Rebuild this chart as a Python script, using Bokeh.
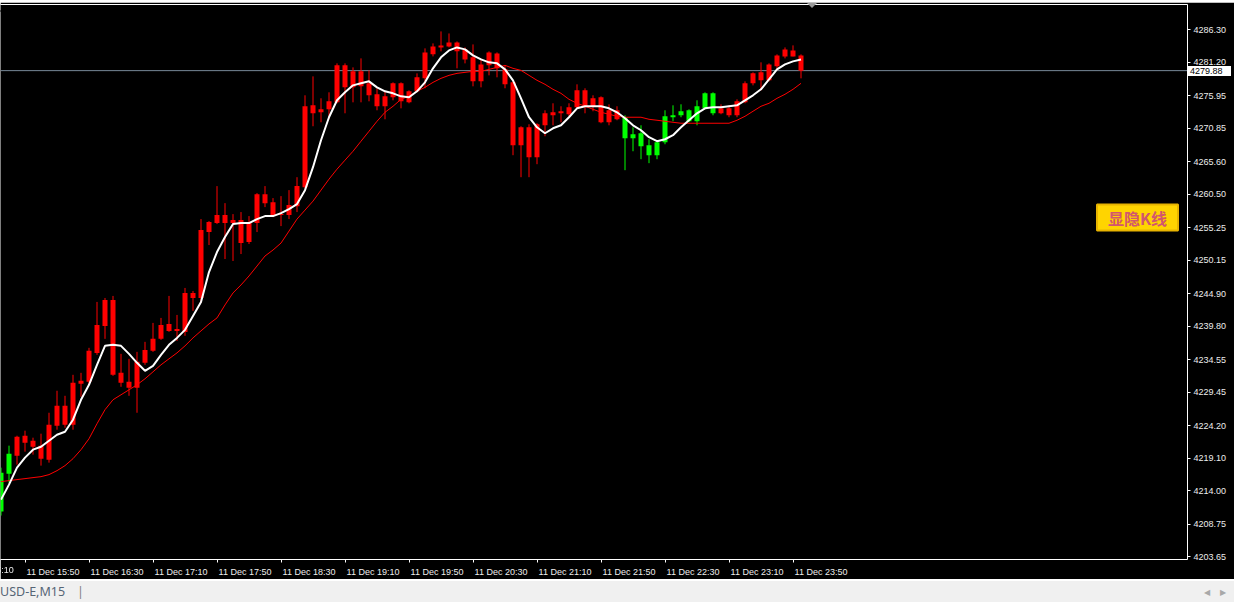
from bokeh.plotting import figure
from bokeh.models import (ColumnDataSource, Range1d, FixedTicker, NumeralTickFormatter,
                          LinearAxis, Span, Label, Div)
from bokeh.layouts import column
from bokeh.embed import file_html
from bokeh.resources import INLINE

# ---------------- data (M15 bars, index = bar number) ----------------
bars = list(range(101))

open_ = [
    4210.74, 4216.68, 4219.50, 4222.63, 4221.85, 4221.07, 4218.88, 4224.20, 4227.33, 4224.35,
    4230.77, 4231.09, 4235.62, 4239.85, 4243.92, 4232.49, 4231.09, 4230.15, 4234.06, 4235.94,
    4237.82, 4240.16, 4239.07, 4238.91, 4245.02, 4244.23, 4254.57, 4255.97, 4257.23, 4255.97,
    4256.44, 4253.00, 4255.97, 4260.51, 4259.26, 4257.23, 4257.23, 4258.63, 4261.61, 4274.44,
    4273.35, 4273.82, 4274.91, 4280.71, 4277.26, 4279.77, 4277.89, 4276.17, 4274.29, 4275.70,
    4277.89, 4274.91, 4276.64, 4278.67, 4282.43, 4283.52, 4283.68, 4284.31, 4283.21, 4281.96,
    4278.20, 4280.71, 4282.58, 4280.08, 4278.04, 4268.18, 4271.00, 4266.30, 4271.31, 4273.35,
    4273.19, 4273.04, 4274.13, 4276.79, 4274.29, 4275.70, 4271.78, 4273.66, 4272.57, 4269.28,
    4270.06, 4268.18, 4266.62, 4268.65, 4272.57, 4272.88, 4273.66, 4271.94, 4273.97, 4276.32,
    4273.19, 4273.97, 4272.88, 4274.91, 4277.89, 4279.61, 4278.36, 4280.55, 4282.11, 4283.05,
    4282.27]

high = [
    4217.62, 4221.07, 4222.63, 4223.42, 4222.32, 4222.95, 4226.23, 4229.68, 4228.89, 4232.18,
    4232.49, 4236.41, 4243.61, 4244.23, 4244.55, 4235.47, 4234.69, 4235.78, 4237.35, 4240.32,
    4241.10, 4244.55, 4241.57, 4245.80, 4245.33, 4256.60, 4256.29, 4261.77, 4259.10, 4257.38,
    4257.70, 4257.07, 4260.67, 4261.77, 4259.89, 4260.20, 4261.14, 4263.17, 4276.01, 4278.98,
    4275.54, 4276.48, 4281.02, 4281.02, 4280.39, 4281.80, 4279.92, 4277.11, 4276.64, 4278.04,
    4278.04, 4276.79, 4279.45, 4283.37, 4284.15, 4286.03, 4285.71, 4284.46, 4283.52, 4283.99,
    4281.80, 4282.90, 4282.74, 4280.71, 4278.20, 4271.16, 4271.47, 4271.63, 4273.66, 4274.76,
    4274.29, 4274.76, 4277.73, 4277.11, 4276.01, 4275.85, 4274.60, 4274.29, 4272.88, 4271.00,
    4271.31, 4269.12, 4268.81, 4273.66, 4274.44, 4274.60, 4273.82, 4275.23, 4276.48, 4276.48,
    4274.60, 4274.44, 4275.38, 4278.20, 4279.61, 4281.18, 4281.02, 4282.43, 4283.52, 4283.84,
    4282.43]

low = [
    4210.11, 4215.28, 4218.09, 4220.13, 4219.66, 4217.94, 4218.41, 4223.57, 4223.88, 4223.57,
    4228.74, 4230.62, 4235.31, 4237.82, 4232.02, 4230.30, 4228.89, 4226.23, 4233.75, 4235.78,
    4237.66, 4238.91, 4237.50, 4238.29, 4242.20, 4243.45, 4252.53, 4255.82, 4250.34, 4250.03,
    4251.12, 4252.69, 4254.57, 4258.48, 4256.91, 4255.50, 4256.60, 4257.70, 4261.45, 4271.16,
    4271.78, 4272.25, 4274.76, 4273.19, 4274.91, 4274.91, 4275.07, 4273.66, 4272.25, 4275.23,
    4273.97, 4274.76, 4276.48, 4277.11, 4282.11, 4282.90, 4283.52, 4280.24, 4281.02, 4277.42,
    4277.26, 4279.14, 4278.83, 4277.11, 4266.62, 4263.17, 4263.17, 4265.21, 4269.59, 4271.31,
    4271.78, 4272.72, 4273.97, 4273.19, 4273.51, 4271.63, 4271.31, 4272.10, 4264.27, 4267.24,
    4265.99, 4265.37, 4265.99, 4268.34, 4271.94, 4272.57, 4271.78, 4271.31, 4273.82, 4272.88,
    4273.04, 4272.57, 4272.57, 4274.76, 4277.57, 4276.79, 4278.20, 4279.92, 4281.80, 4282.11,
    4278.67]

close_ = [
    4216.84, 4219.81, 4222.48, 4221.54, 4220.91, 4219.03, 4224.35, 4227.33, 4224.35, 4230.93,
    4231.24, 4235.94, 4240.01, 4243.92, 4232.18, 4230.93, 4230.15, 4234.22, 4236.09, 4237.82,
    4240.01, 4239.07, 4239.38, 4245.02, 4244.23, 4254.88, 4256.13, 4257.23, 4255.97, 4256.44,
    4252.84, 4255.97, 4260.51, 4259.10, 4257.23, 4257.38, 4258.79, 4261.77, 4274.29, 4273.19,
    4273.82, 4275.07, 4280.71, 4277.26, 4279.77, 4277.42, 4276.01, 4274.29, 4275.85, 4277.89,
    4275.07, 4276.64, 4278.83, 4282.74, 4283.68, 4283.84, 4284.31, 4282.90, 4281.64, 4278.20,
    4280.86, 4282.74, 4280.24, 4277.73, 4268.18, 4271.00, 4266.30, 4271.47, 4273.19, 4272.88,
    4273.51, 4274.13, 4276.79, 4274.29, 4275.54, 4271.78, 4273.66, 4272.25, 4269.28, 4269.90,
    4268.03, 4266.62, 4268.65, 4272.72, 4272.88, 4273.51, 4271.94, 4274.29, 4276.32, 4273.19,
    4273.97, 4272.88, 4275.07, 4277.89, 4279.45, 4278.36, 4280.86, 4282.27, 4283.21, 4282.11,
    4279.88]

# fast moving average (white) as drawn on the chart
ma_fast = [
    4212.61, 4214.96, 4217.62, 4219.19, 4220.44, 4220.91, 4221.85, 4222.79, 4223.26, 4225.14,
    4228.27, 4230.62, 4233.75, 4236.72, 4236.88, 4236.72, 4235.47, 4234.06, 4232.81, 4233.59,
    4235.31, 4236.88, 4237.97, 4239.23, 4241.42, 4243.61, 4248.30, 4251.43, 4253.78, 4255.82,
    4255.97, 4255.97, 4256.60, 4257.07, 4257.07, 4257.54, 4258.17, 4258.95, 4261.14, 4264.74,
    4268.97, 4272.57, 4275.23, 4276.48, 4277.57, 4277.89, 4278.20, 4277.26, 4276.64, 4276.32,
    4275.85, 4275.70, 4276.64, 4278.04, 4280.24, 4281.96, 4283.05, 4283.52, 4283.21, 4282.27,
    4281.64, 4281.18, 4281.02, 4280.08, 4278.36, 4275.54, 4272.57, 4271.00, 4270.06, 4270.84,
    4271.31, 4272.57, 4273.97, 4274.29, 4274.29, 4274.29, 4273.97, 4273.35, 4272.41, 4271.31,
    4270.53, 4269.44, 4268.81, 4269.12, 4269.75, 4271.00, 4272.10, 4273.19, 4273.97, 4274.13,
    4274.13, 4274.29, 4274.44, 4275.23, 4276.01, 4276.95, 4278.51, 4280.08, 4280.86, 4281.33,
    4281.64]

# slow moving average (red) as drawn on the chart
ma_slow = [
    4215.43, 4215.59, 4215.75, 4215.90, 4216.06, 4216.21, 4216.53, 4217.15, 4217.94, 4219.03,
    4220.44, 4222.16, 4224.51, 4226.71, 4228.27, 4229.05, 4229.83, 4230.62, 4231.56, 4232.65,
    4233.75, 4234.69, 4235.62, 4236.72, 4237.97, 4239.07, 4240.16, 4241.10, 4243.14, 4245.02,
    4246.27, 4247.68, 4249.24, 4250.81, 4251.75, 4252.84, 4254.72, 4256.60, 4258.01, 4259.42,
    4261.14, 4262.86, 4264.43, 4265.84, 4267.24, 4268.81, 4270.37, 4271.94, 4273.35, 4274.29,
    4275.38, 4275.85, 4276.64, 4277.26, 4278.04, 4278.67, 4279.14, 4279.45, 4279.61, 4279.77,
    4279.77, 4280.08, 4280.39, 4280.71, 4280.24, 4279.92, 4279.14, 4278.36, 4277.73, 4276.95,
    4276.32, 4275.38, 4274.76, 4274.29, 4273.82, 4273.35, 4273.04, 4272.72, 4272.57, 4272.57,
    4272.57, 4272.25, 4272.10, 4271.94, 4271.78, 4271.63, 4271.63, 4271.63, 4271.63, 4271.63,
    4271.63, 4271.63, 4272.10, 4272.72, 4273.51, 4274.29, 4274.76, 4275.54, 4276.17, 4276.95,
    4277.89]

# candle colours of the indicator (G = green, R = red)
candle_state = "GG" + "R" * 76 + "G" * 12 + "R" * 11

time_tick_bars = [3, 11, 19, 27, 35, 43, 51, 59, 67, 75, 83, 91, 99]
time_tick_labels = ["11 Dec 15:50", "11 Dec 16:30", "11 Dec 17:10", "11 Dec 17:50",
                    "11 Dec 18:30", "11 Dec 19:10", "11 Dec 19:50", "11 Dec 20:30",
                    "11 Dec 21:10", "11 Dec 21:50", "11 Dec 22:30", "11 Dec 23:10",
                    "11 Dec 23:50"]
# tick that lies just left of the visible bars (only the end of its label shows)
hidden_tick_bar = -5
hidden_tick_label = "11 Dec 15:10"

price_ticks = [4203.65, 4208.75, 4214.00, 4219.10, 4224.20, 4229.45, 4234.55, 4239.80,
               4244.90, 4250.15, 4255.25, 4260.50, 4265.60, 4270.85, 4275.95, 4281.20,
               4286.30]

symbol_text = "USD-E,M15"
button_text = "显隐K线"

# ---------------- layout constants ----------------
W = 1234
TOP_STRIP = 2
FIG_H = 577
STATUS_H = 23
FRAME_TOP = 2            # inside the figure canvas
BORDER_BOTTOM = 19
BORDER_RIGHT = 47
Y_LO, Y_HI = 4203.22, 4290.25
X_LO, X_HI = -0.0625, 148.3125

GREEN, RED = "#00FF00", "#FF0000"
colors = [GREEN if s == "G" else RED for s in candle_state]
body_top = [max(o, c) for o, c in zip(open_, close_)]
body_bottom = [min(o, c) for o, c in zip(open_, close_)]

src = ColumnDataSource(dict(x=bars, high=high, low=low, top=body_top,
                            bottom=body_bottom, color=colors))

p = figure(width=W, height=FIG_H,
           x_range=Range1d(X_LO, X_HI), y_range=Range1d(Y_LO, Y_HI),
           y_axis_location="right", output_backend="svg", toolbar_location=None, tools="",
           background_fill_color="black", border_fill_color="black",
           outline_line_color=None, min_border_left=0, min_border_top=FRAME_TOP,
           min_border_right=BORDER_RIGHT, min_border_bottom=BORDER_BOTTOM)
p.xgrid.visible = False
p.ygrid.visible = False

# bid line (behind the candles)
p.add_layout(Span(location=close_[-1], dimension="width", line_color="#778899",
                  line_width=1, level="underlay"))

# candles
p.segment(x0="x", y0="low", x1="x", y1="high", line_color="color", line_width=1, source=src)
p.vbar(x="x", width=0.625, top="top", bottom="bottom", fill_color="color",
       line_color=None, source=src)

# moving averages
p.line(bars, ma_slow, line_color="#FF0000", line_width=1)
p.line(bars, ma_fast, line_color="white", line_width=2)

# right price axis
ya = p.yaxis[0]
ya.ticker = FixedTicker(ticks=price_ticks)
ya.formatter = NumeralTickFormatter(format="0.00")
ya.axis_line_color = "white"
ya.major_tick_line_color = "white"
ya.major_tick_out = 3
ya.major_tick_in = 0
ya.minor_tick_line_color = None
ya.major_label_text_color = "#EDEDED"
ya.major_label_text_font = "Liberation Sans"
ya.major_label_text_font_size = "9px"
ya.major_label_standoff = 3

# bottom time axis (labels start right after the tick, as in MT4)
LABEL_SHIFT = 3.5
xa = p.xaxis[0]
xa.ticker = FixedTicker(ticks=[b + LABEL_SHIFT for b in time_tick_bars],
                        minor_ticks=time_tick_bars)
xa.major_label_overrides = {b + LABEL_SHIFT: t for b, t in zip(time_tick_bars, time_tick_labels)}
xa.axis_line_color = "white"
xa.major_tick_line_color = None
xa.major_tick_out = 0
xa.major_tick_in = 0
xa.minor_tick_line_color = "white"
xa.minor_tick_out = 3
xa.minor_tick_in = 0
xa.major_label_text_color = "#EDEDED"
xa.major_label_text_font = "Liberation Sans"
xa.major_label_text_font_size = "9px"
xa.major_label_standoff = 4

# top border line
top_axis = LinearAxis(ticker=FixedTicker(ticks=[]), axis_line_color="white",
                      major_tick_line_color=None, minor_tick_line_color=None,
                      major_tick_out=0, major_tick_in=0, minor_tick_out=0, minor_tick_in=0,
                      major_label_text_font_size="0px", major_label_standoff=0)
p.add_layout(top_axis, "above")

# indicator button (screen units, measured from the frame's bottom-left)
button = Label(x=1137, y=342, x_units="screen", y_units="screen", text=button_text,
               text_font="Noto Sans CJK SC", text_font_style="bold", text_font_size="16px",
               text_color="#D2566E", text_align="center", text_baseline="middle",
               background_fill_color="#FFD400", border_line_color="#E8B400",
               border_line_width=2)
try:
    button.padding = dict(left=11, right=11, top=1, bottom=1)
except Exception:
    try:
        button.padding = 3
    except Exception:
        pass
p.add_layout(button)

# positions for the small page overlays, from the same scales as the frame
frame_top_px = TOP_STRIP + FRAME_TOP
frame_bot_px = TOP_STRIP + FIG_H - BORDER_BOTTOM
frame_right_px = W - BORDER_RIGHT
px_per_bar = frame_right_px / (X_HI - X_LO)
bid_px = frame_top_px + (Y_HI - close_[-1]) / (Y_HI - Y_LO) * (frame_bot_px - frame_top_px)
tag_top = int(round(bid_px - 4.5))
marker_left = int(round((101.5 - X_LO) * px_per_bar)) - 5
hidden_label_left = int(round((hidden_tick_bar - X_LO) * px_per_bar)) + 1

top_strip = Div(text=f'<div style="width:{W}px;height:{TOP_STRIP}px;background:#8E8E8E;"></div>',
                width=W, height=TOP_STRIP, margin=0)

status = Div(
    text=(f'<div style="box-sizing:border-box;width:{W}px;height:{STATUS_H}px;background:#F0F0F0;'
          'border-top:2px solid #FFFFFF;display:flex;align-items:center;'
          'justify-content:space-between;font-family:\'Noto Sans\',sans-serif;'
          'font-size:12.5px;color:#566575;overflow:hidden;white-space:nowrap;">'
          f'<span>{symbol_text}<span style="margin-left:12px;color:#808080;">|</span></span>'
          '<span style="color:#A8A8A8;font-size:8px;padding-right:8px;">'
          '&#9664;&nbsp;&nbsp;&nbsp;&nbsp;&nbsp;&#9654;</span></div>'
          f'<div style="position:fixed;left:{frame_right_px + 1}px;top:{tag_top}px;width:43px;'
          'height:10px;background:#FFFFFF;color:#000000;font-family:\'Liberation Sans\',sans-serif;'
          f'font-size:9px;line-height:10px;padding-left:2px;box-sizing:border-box;">{close_[-1]:.2f}</div>'
          f'<div style="position:fixed;left:{marker_left}px;top:3px;width:0;height:0;'
          'border-left:5px solid transparent;border-right:5px solid transparent;'
          'border-top:5px solid #9A9A9A;"></div>'
          f'<div style="position:fixed;left:{hidden_label_left}px;top:{frame_bot_px + 5}px;'
          'color:#EDEDED;font-family:\'Liberation Sans\',sans-serif;font-size:9px;'
          f'line-height:10px;white-space:nowrap;">{hidden_tick_label}</div>'),
    width=W, height=STATUS_H, margin=0)

layout = column(top_strip, p, status, spacing=0)
open("out.html", "w").write(file_html(layout, INLINE))
